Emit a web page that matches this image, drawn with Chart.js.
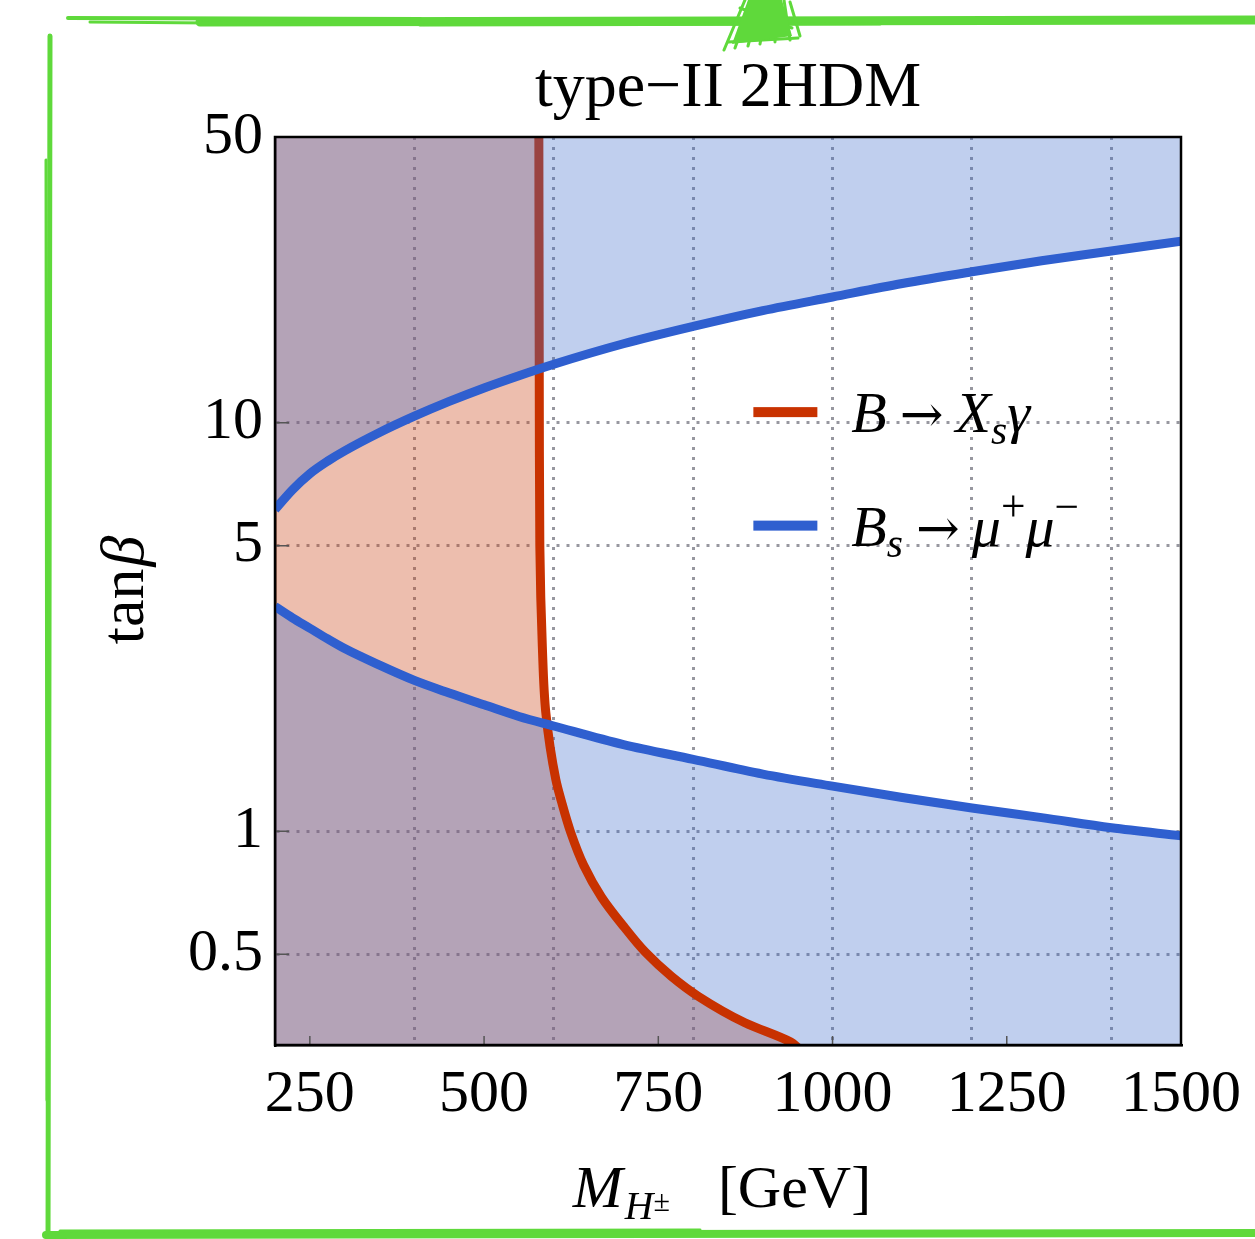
<!DOCTYPE html>
<html>
<head>
<meta charset="utf-8">
<title>type-II 2HDM</title>
<script src="https://cdn.jsdelivr.net/npm/chart.js@4.4.1/dist/chart.umd.min.js"></script>
<style>
  html, body { margin: 0; padding: 0; background: #fff; }
  #wrap { position: relative; width: 1255px; height: 1239px; }
</style>
</head>
<body>
<div id="wrap"><canvas id="chart"></canvas></div>
<script>
// B_s -> mu+ mu- : upper and lower tan(beta) bounds vs charged Higgs mass
const bsMass  = [200, 225, 250, 275, 300, 350, 400, 450, 500, 550, 600, 700, 800, 900, 1000, 1100, 1200, 1300, 1400, 1500];
const bsUpper = [6.13, 6.85, 7.5, 8.04, 8.53, 9.46, 10.37, 11.27, 12.16, 13.03, 13.9, 15.6, 17.2, 18.8, 20.3, 21.9, 23.4, 24.9, 26.3, 27.8];
const bsLower = [3.55, 3.33, 3.14, 2.96, 2.8, 2.55, 2.34, 2.18, 2.04, 1.91, 1.81, 1.63, 1.5, 1.38, 1.29, 1.21, 1.14, 1.08, 1.02, 0.975];

// B -> X_s gamma : lower mass bound, read from top to bottom
const bsgMass = [578.6, 579.3, 580, 583.6, 588.6, 602.9, 611.4, 624.3, 642.9, 668.6, 700, 731.4, 768.6, 807.1, 874.3, 940, 950];
const bsgTan  = [50, 10, 5, 2.83, 1.95, 1.34, 1.177, 0.994, 0.826, 0.69, 0.586, 0.506, 0.442, 0.395, 0.34, 0.305, 0.296];

// axes
const xTickLabels = [250, 500, 750, 1000, 1250, 1500];
const xGridLines  = [400, 600, 800, 1000, 1200, 1400];
const yTicks      = [0.5, 1, 5, 10, 50];

const SERIF = "'Liberation Serif', 'Times New Roman', serif";
const ARROW = "'DejaVu Serif', serif";
const RED = '#c83200';
const BLUE = '#2f5fcf';
const RED_FILL = 'rgba(204, 69, 24, 0.35)';
const BLUE_FILL = 'rgba(58, 105, 202, 0.32)';
const GRID = 'rgba(125, 125, 135, 0.8)';
const GREEN = '#5fd93b';
const NONE = 'rgba(0,0,0,0)';

const toPoints = (xs, ys) => xs.map((x, i) => ({x: x, y: ys[i]}));
const xTickValues = [...new Set([...xTickLabels, ...xGridLines])].sort((a, b) => a - b);

// text runs with italic / sub / sup pieces
function runFont(r, size) {
    return (r.it ? 'italic ' : '') + (size * (r.scale || 1)) + 'px ' + (r.fam || SERIF);
}

function runWidth(ctx, runs, size) {
    let w = 0;
    runs.forEach(r => {
        ctx.font = runFont(r, size);
        w += (r.pre || 0) + ctx.measureText(r.t).width + (r.gap || 0);
    });
    return w;
}

function drawRuns(ctx, runs, x, y, size) {
    let cx = x;
    runs.forEach(r => {
        ctx.font = runFont(r, size);
        cx += r.pre || 0;
        ctx.fillText(r.t, cx, y + size * (r.dy || 0));
        cx += ctx.measureText(r.t).width + (r.gap || 0);
    });
}

const decorPlugin = {
    id: 'decor',
    afterDraw(chart) {
        const ctx = chart.ctx;
        const area = chart.chartArea;
        const xs = chart.scales.x;
        const ys = chart.scales.y;
        ctx.save();

        // small inward ticks
        ctx.strokeStyle = '#555';
        ctx.lineWidth = 1.5;
        ctx.beginPath();
        xTickLabels.forEach(v => {
            const px = xs.getPixelForValue(v);
            ctx.moveTo(px, area.bottom);
            ctx.lineTo(px, area.bottom - 9);
        });
        yTicks.forEach(v => {
            const py = ys.getPixelForValue(v);
            ctx.moveTo(area.left, py);
            ctx.lineTo(area.left + 14, py);
        });
        ctx.stroke();

        // plot frame
        ctx.strokeStyle = '#000';
        ctx.lineWidth = 2.5;
        ctx.strokeRect(area.left, area.top, area.right - area.left, area.bottom - area.top);

        ctx.fillStyle = '#000';
        ctx.textBaseline = 'alphabetic';

        // title
        ctx.textAlign = 'center';
        ctx.font = '64px ' + SERIF;
        ctx.fillText('type\u2212II 2HDM', (area.left + area.right) / 2, 106);

        // x axis title
        ctx.textAlign = 'left';
        const xRuns = [
            {t: 'M', it: true, gap: 2},
            {t: 'H', it: true, scale: 0.66, dy: 0.2},
            {t: '\u00b1', scale: 0.5, dy: 0.06, gap: 48},
            {t: '[GeV]'}
        ];
        const xw = runWidth(ctx, xRuns, 60);
        drawRuns(ctx, xRuns, (area.left + area.right) / 2 - xw / 2 - 6, 1207, 60);

        // y axis title
        ctx.save();
        ctx.translate(143, 590);
        ctx.rotate(-Math.PI / 2);
        const yRuns = [{t: 'tan', gap: 2}, {t: '\u03b2', it: true}];
        const yw = runWidth(ctx, yRuns, 62);
        drawRuns(ctx, yRuns, -yw / 2, 0, 62);
        ctx.restore();

        // legend
        const w = area.right - area.left;
        const h = area.bottom - area.top;
        const lx = area.left + 0.528 * w;
        const arrow = {t: '\u2192', fam: ARROW, scale: 0.9, pre: 13, gap: 12};
        const rows = [
            {color: RED, y: area.top + 0.303 * h, runs: [
                {t: 'B', it: true}, arrow, {t: 'X', it: true},
                {t: 's', it: true, scale: 0.72, dy: 0.2}, {t: '\u03b3', it: true}
            ]},
            {color: BLUE, y: area.top + 0.428 * h, runs: [
                {t: 'B', it: true}, {t: 's', it: true, scale: 0.72, dy: 0.2}, arrow,
                {t: '\u03bc', it: true}, {t: '+', scale: 0.75, dy: -0.42},
                {t: '\u03bc', it: true}, {t: '\u2212', scale: 0.75, dy: -0.42}
            ]}
        ];
        rows.forEach(row => {
            ctx.fillStyle = row.color;
            ctx.fillRect(lx, row.y - 5, 64, 10);
            ctx.fillStyle = '#000';
            drawRuns(ctx, row.runs, lx + 98, row.y + 20, 58);
        });

        // hand drawn green frame
        ctx.strokeStyle = GREEN;
        ctx.fillStyle = GREEN;
        ctx.lineCap = 'round';
        const strokes = [
            [[200, 22], [1255, 20], 9],
            [[68, 18], [420, 19], 4],
            [[90, 22], [330, 24], 3],
            [[420, 25], [880, 24], 3],
            [[50, 36], [48, 1239], 5],
            [[46, 160], [47, 1100], 3],
            [[46, 1235], [1255, 1233], 8],
            [[60, 1231], [700, 1230], 3]
        ];
        strokes.forEach(s => {
            ctx.lineWidth = s[2];
            ctx.beginPath();
            ctx.moveTo(s[0][0], s[0][1]);
            ctx.lineTo(s[1][0], s[1][1]);
            ctx.stroke();
        });
        // scribble at the top
        ctx.lineWidth = 3;
        const scribble = [
            [[745, 0], [724, 50]], [[752, 0], [735, 48]], [[760, 0], [748, 46]],
            [[768, 0], [760, 44]], [[776, 0], [775, 42]], [[784, 0], [790, 40]],
            [[790, 2], [800, 36]], [[740, 8], [792, 28]], [[728, 42], [798, 38]]
        ];
        scribble.forEach(s => {
            ctx.beginPath();
            ctx.moveTo(s[0][0], s[0][1]);
            ctx.lineTo(s[1][0], s[1][1]);
            ctx.stroke();
        });
        ctx.beginPath();
        ctx.moveTo(748, 0);
        ctx.lineTo(782, 0);
        ctx.lineTo(792, 36);
        ctx.lineTo(732, 44);
        ctx.closePath();
        ctx.fill();

        ctx.restore();
    }
};

const lineBase = {pointRadius: 0, fill: false, cubicInterpolationMode: 'monotone'};

new Chart(document.getElementById('chart'), {
    type: 'line',
    data: {
        datasets: [
            // lower B_s line, top-most
            {...lineBase, data: toPoints(bsMass, bsLower), borderColor: BLUE, borderWidth: 9, order: 1},
            // upper B_s line
            {...lineBase, data: toPoints(bsMass, bsUpper), borderColor: BLUE, borderWidth: 9, order: 2},
            // region above upper B_s bound
            {...lineBase, data: toPoints(bsMass, bsUpper), borderColor: NONE, borderWidth: 0,
                fill: 'end', backgroundColor: BLUE_FILL, order: 3},
            // B -> X_s gamma line
            {...lineBase, data: toPoints(bsgMass, bsgTan), indexAxis: 'y',
                borderColor: RED, borderWidth: 9, order: 4},
            // region below lower B_s bound
            {...lineBase, data: toPoints(bsMass, bsLower), borderColor: NONE, borderWidth: 0,
                fill: 'start', backgroundColor: BLUE_FILL, order: 5},
            // region excluded by B -> X_s gamma
            {...lineBase, data: toPoints(bsgMass, bsgTan), indexAxis: 'y',
                borderColor: NONE, borderWidth: 0, fill: {value: 200}, backgroundColor: RED_FILL, order: 6}
        ]
    },
    options: {
        responsive: true,
        maintainAspectRatio: false,
        devicePixelRatio: 1,
        animation: false,
        events: [],
        layout: {
            padding: {top: 137, right: 71, bottom: 0, left: 0}
        },
        plugins: {
            legend: {display: false},
            tooltip: {enabled: false},
            title: {display: false}
        },
        scales: {
            x: {
                type: 'linear',
                min: 200,
                max: 1500,
                afterBuildTicks: (axis) => { axis.ticks = xTickValues.map(v => ({value: v})); },
                afterFit: (axis) => { axis.height = 194; },
                ticks: {
                    autoSkip: false,
                    maxRotation: 0,
                    padding: 14,
                    color: '#000',
                    font: {family: SERIF, size: 60},
                    callback: (v) => xTickLabels.includes(v) ? String(v) : ''
                },
                grid: {
                    color: (ctx) => ctx.tick && xGridLines.includes(ctx.tick.value) ? GRID : NONE,
                    lineWidth: 3,
                    drawTicks: false
                },
                border: {display: true, color: '#000', width: 2.5, dash: [3, 7]}
            },
            y: {
                type: 'logarithmic',
                min: 0.3,
                max: 50,
                afterBuildTicks: (axis) => { axis.ticks = yTicks.map(v => ({value: v})); },
                afterFit: (axis) => { axis.width = 275; },
                ticks: {
                    autoSkip: false,
                    padding: 12,
                    color: '#000',
                    font: {family: SERIF, size: 60},
                    callback: (v) => String(v)
                },
                grid: {
                    color: (ctx) => ctx.tick && ctx.tick.value < 50 ? GRID : NONE,
                    lineWidth: 3,
                    drawTicks: false
                },
                border: {display: true, color: '#000', width: 2.5, dash: [3, 7]}
            }
        }
    },
    plugins: [decorPlugin]
});
</script>
</body>
</html>
